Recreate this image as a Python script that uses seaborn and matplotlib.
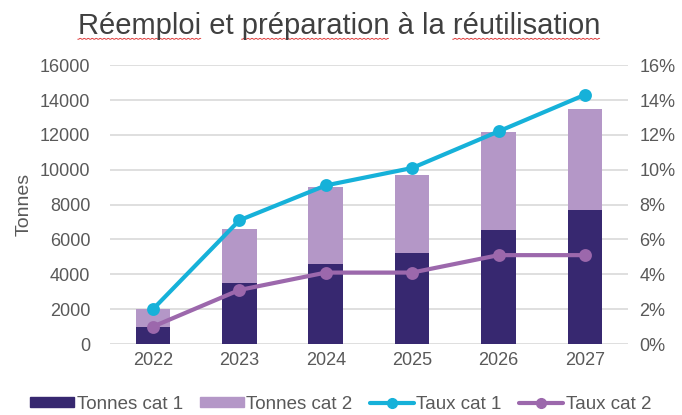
import matplotlib.pyplot as plt
import matplotlib.ticker as mticker
from matplotlib.patches import Patch
from matplotlib.lines import Line2D
import numpy as np
import pandas as pd
import seaborn as sns

# Data
years = ['2022', '2023', '2024', '2025', '2026', '2027']
tonnes_cat1 = [1000, 3500, 4600, 5250, 6520, 7700]
tonnes_cat2 = [1000, 3100, 4400, 4450, 5640, 5800]
taux_cat1 = [2.0, 7.1, 9.1, 10.1, 12.2, 14.3]
taux_cat2 = [1.0, 3.1, 4.1, 4.1, 5.1, 5.1]

df = pd.DataFrame({'Année': years,
                   'Tonnes cat 1': tonnes_cat1,
                   'Tonnes cat 2': tonnes_cat2,
                   'Taux cat 1': taux_cat1,
                   'Taux cat 2': taux_cat2})
df['Total'] = df['Tonnes cat 1'] + df['Tonnes cat 2']

c_dark = '#372870'
c_light = '#B497C7'
c_cyan = '#16B1D9'
c_purple = '#9C68AC'
c_text = '#595959'

sns.set_style('white')
plt.rcParams['font.family'] = ['Liberation Sans', 'DejaVu Sans']

fig = plt.figure(figsize=(6.82, 4.15), dpi=100)
ax = fig.add_axes([0.161, 0.171, 0.76, 0.672])

# Stacked bars: total first, then cat 1 over it
sns.barplot(data=df, x='Année', y='Total', color=c_light, width=0.4,
            saturation=1, linewidth=0, edgecolor='none', ax=ax, zorder=2)
sns.barplot(data=df, x='Année', y='Tonnes cat 1', color=c_dark, width=0.4,
            saturation=1, linewidth=0, edgecolor='none', ax=ax, zorder=3)

ax.set_ylim(0, 16000)
ax.set_xlim(-0.5, 5.5)
ax.set_yticks(np.arange(0, 16001, 2000))
ax.yaxis.grid(True, color='#D9D9D9', linewidth=1.2, zorder=0)
ax.set_axisbelow(True)
ax.set_xlabel('')
ax.set_ylabel('Tonnes', fontsize=14, color=c_text, labelpad=5)
ax.tick_params(axis='y', length=0, labelsize=13, colors=c_text, pad=14)
ax.tick_params(axis='x', length=0, labelsize=13, colors=c_text, pad=6)
for s in ax.spines.values():
    s.set_visible(False)

# Rates on secondary axis
ax2 = ax.twinx()
sns.pointplot(data=df, x='Année', y='Taux cat 2', color=c_purple, markers='o',
              markersize=7, linewidth=3, ax=ax2)
sns.pointplot(data=df, x='Année', y='Taux cat 1', color=c_cyan, markers='o',
              markersize=7, linewidth=3, ax=ax2)
ax2.set_ylim(0, 16)
ax2.set_xlim(-0.5, 5.5)
ax2.set_yticks(np.arange(0, 17, 2))
ax2.yaxis.set_major_formatter(mticker.FuncFormatter(lambda v, p: f'{v:.0f}%'))
ax2.set_ylabel('')
ax2.set_xlabel('')
ax2.tick_params(axis='both', length=0, labelsize=13, colors=c_text, pad=8)
for s in ax2.spines.values():
    s.set_visible(False)

title_txt = 'Réemploi et préparation à la réutilisation'
title = fig.text(0.497, 0.938, title_txt, fontsize=21, color='#404040',
                 ha='center', va='center')

handles = [Patch(color=c_dark), Patch(color=c_light),
           Line2D([0], [0], color=c_cyan, lw=3, marker='o', ms=7),
           Line2D([0], [0], color=c_purple, lw=3, marker='o', ms=7)]
labels = ['Tonnes cat 1', 'Tonnes cat 2', 'Taux cat 1', 'Taux cat 2']
fig.legend(handles, labels, loc='center', bbox_to_anchor=(0.499, 0.025),
           ncol=4, frameon=False, fontsize=13.5, labelcolor=c_text,
           handlelength=2.35, handleheight=0.45, handletextpad=0.15,
           columnspacing=0.9)

# red spell-check squiggles under some title words
fig.canvas.draw()
rend = fig.canvas.get_renderer()
bb = title.get_window_extent(rend)
fp = title.get_fontproperties()
W, H = fig.bbox.width, fig.bbox.height
for word in ['Réemploi', 'préparation', 'réutilisation']:
    i = title_txt.index(word)
    x0 = bb.x0 + (rend.get_text_width_height_descent(title_txt[:i], fp, ismath=False)[0] if i else 0)
    w = rend.get_text_width_height_descent(word, fp, ismath=False)[0]
    xs = np.arange(x0, x0 + w, 1.0)
    ys = bb.y0 + 0.5 + 0.8 * ((np.arange(len(xs)) // 2) % 2)
    fig.add_artist(Line2D(xs / W, ys / H, color='#E04040', lw=0.7))

plt.savefig('out.png', dpi=100)
